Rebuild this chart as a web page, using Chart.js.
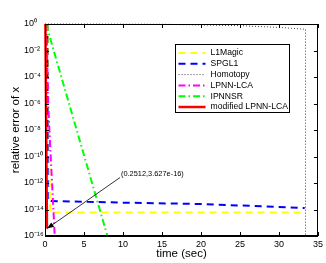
<!DOCTYPE html>
<html><head><meta charset="utf-8">
<script src="https://cdn.jsdelivr.net/npm/chart.js@4.4.1/dist/chart.umd.min.js"></script>
<style>html,body{margin:0;padding:0;background:#fff;overflow:hidden}#wrap{width:326px;height:263px;position:relative}</style>
</head><body><div id="wrap"><canvas id="c" width="326" height="263"></canvas></div>
<script>
// ---- data ----
const seriesNames = ['L1Magic', 'SPGL1', 'Homotopy', 'LPNN-LCA', 'IPNNSR', 'modified LPNN-LCA'];
const l1magicT   = [0.35, 0.65, 33.2];
const l1magicErr = [1, 6e-15, 6e-15];
const spgl1T     = [0.3, 0.35, 5, 10, 20, 33.3];
const spgl1Err   = [1, 4.4e-14, 3.8e-14, 3.3e-14, 2.6e-14, 1.3e-14];
const homotopyT   = [0, 15, 25, 30, 33.4, 33.4];
const homotopyErr = [1, 0.95, 0.75, 0.55, 0.4, 1e-16];
const lpnnT   = [0.2, 0.38, 0.69, 1.25];
const lpnnErr = [1, 2e-6, 3e-10, 1e-16];
const ipnnsrT   = [0.13, 8.0];
const ipnnsrErr = [1, 1e-16];
const modT   = [0.05, 0.2512];
const modErr = [1, 3.627e-16];
const xTicks = [0, 5, 10, 15, 20, 25, 30, 35];
const yTickValues = [1e-16, 1e-14, 1e-12, 1e-10, 1e-8, 1e-6, 1e-4, 1e-2, 1];
const yTickLabels = ['10⁻¹⁶', '10⁻¹⁴', '10⁻¹²', '10⁻¹⁰', '10⁻⁸', '10⁻⁶', '10⁻⁴', '10⁻²', '10⁰'];
const annotPoint = { x: 0.2512, y: 3.627e-16 };
const annotText = '(0.2512,3.627e-16)';
const xTitle = 'time (sec)';
const yTitle = 'relative error of x';

// ---- chart ----
const FONT = '"Liberation Sans", Arial, Helvetica, sans-serif';
Chart.defaults.font.family = FONT;
Chart.defaults.color = '#000';
const pts = (t, e) => t.map((v, i) => ({ x: v, y: e[i] }));

const styles = [
  { borderColor: '#ffff00', borderWidth: 2, borderDash: [7, 5] },
  { borderColor: '#0000ff', borderWidth: 2, borderDash: [7, 5] },
  { borderColor: '#444444', borderWidth: 1, borderDash: [1, 2] },
  { borderColor: '#ff00ff', borderWidth: 2, borderDash: [7, 3, 1.5, 3] },
  { borderColor: '#00ff00', borderWidth: 2, borderDash: [7, 3, 1.5, 3] },
  { borderColor: '#ff0000', borderWidth: 2.5, borderDash: [] }
];
const series = [[l1magicT, l1magicErr], [spgl1T, spgl1Err], [homotopyT, homotopyErr], [lpnnT, lpnnErr], [ipnnsrT, ipnnsrErr], [modT, modErr]];

const datasets = series.map((s, i) => Object.assign({
  label: seriesNames[i],
  data: pts(s[0], s[1]),
  order: 6 - i,
  pointRadius: 0,
  tension: 0,
  fill: false,
  clip: 3
}, styles[i]));

const decor = {
  id: 'decor',
  afterDraw(chart) {
    const ctx = chart.ctx, a = chart.chartArea;
    const xs = chart.scales.x, ys = chart.scales.y;
    ctx.save();
    // box
    ctx.strokeStyle = '#000'; ctx.lineWidth = 1; ctx.setLineDash([]);
    ctx.strokeRect(Math.round(a.left) + 0.5, Math.round(a.top) + 0.5, Math.round(a.right - a.left) - 1, Math.round(a.bottom - a.top) - 1);
    // inward ticks
    const TL = 4;
    ctx.beginPath();
    xs.ticks.forEach(t => {
      const px = Math.round(xs.getPixelForValue(t.value)) + 0.5;
      ctx.moveTo(px, a.bottom); ctx.lineTo(px, a.bottom - TL);
      ctx.moveTo(px, a.top); ctx.lineTo(px, a.top + TL);
    });
    ys.ticks.forEach(t => {
      const py = Math.round(ys.getPixelForValue(t.value)) + 0.5;
      ctx.moveTo(a.left, py); ctx.lineTo(a.left + TL, py);
      ctx.moveTo(a.right, py); ctx.lineTo(a.right - TL, py);
    });
    ctx.stroke();

    // annotation
    const px = xs.getPixelForValue(annotPoint.x), py = ys.getPixelForValue(annotPoint.y);
    const tx = px + 74, ty = py - 55;
    const sx = tx - 1, sy = ty + 4;
    ctx.beginPath(); ctx.moveTo(sx, sy); ctx.lineTo(px, py); ctx.lineWidth = 0.8; ctx.stroke();
    const ang = Math.atan2(py - sy, px - sx), L = 7, W = 2.6;
    ctx.beginPath();
    ctx.moveTo(px, py);
    ctx.lineTo(px - L * Math.cos(ang) + W * Math.sin(ang), py - L * Math.sin(ang) - W * Math.cos(ang));
    ctx.lineTo(px - L * Math.cos(ang) - W * Math.sin(ang), py - L * Math.sin(ang) + W * Math.cos(ang));
    ctx.closePath(); ctx.fillStyle = '#000'; ctx.fill();
    ctx.font = '7.4px ' + FONT; ctx.textAlign = 'left'; ctx.textBaseline = 'middle';
    ctx.fillText(annotText, tx, ty);

    // legend
    const lw = 114, lh = 68;
    const lx = Math.round(a.right - 29 - lw) + 0.5, ly = Math.round(a.top + 20) + 0.5;
    ctx.fillStyle = '#fff'; ctx.fillRect(lx, ly, lw, lh);
    ctx.strokeStyle = '#000'; ctx.lineWidth = 1; ctx.setLineDash([]);
    ctx.strokeRect(lx, ly, lw, lh);
    ctx.font = '8.6px ' + FONT; ctx.textBaseline = 'middle'; ctx.textAlign = 'left';
    chart.data.datasets.forEach((d, i) => {
      const yy = ly + 8.5 + i * 10.8;
      ctx.save();
      ctx.strokeStyle = d.borderColor; ctx.lineWidth = d.borderWidth; ctx.setLineDash(d.borderDash || []);
      ctx.beginPath(); ctx.moveTo(lx + 3, yy); ctx.lineTo(lx + 30, yy); ctx.stroke();
      ctx.restore();
      ctx.fillStyle = '#000';
      ctx.fillText(d.label, lx + 35, yy);
    });

    // y title
    ctx.save();
    ctx.translate(16, (a.top + a.bottom) / 2);
    ctx.rotate(-Math.PI / 2);
    ctx.font = '11.5px ' + FONT; ctx.textAlign = 'center'; ctx.textBaseline = 'middle'; ctx.fillStyle = '#000';
    ctx.fillText(yTitle, 0, 0);
    ctx.restore();
    ctx.restore();
  }
};

new Chart(document.getElementById('c'), {
  type: 'line',
  data: { datasets },
  options: {
    responsive: false, animation: false, devicePixelRatio: 1,
    layout: { padding: { left: 24, top: 24, right: 8, bottom: 0 } },
    plugins: { legend: { display: false }, tooltip: { enabled: false } },
    scales: {
      x: {
        type: 'linear', min: 0, max: 35,
        afterBuildTicks: s => { s.ticks = xTicks.map(v => ({ value: v })); },
        ticks: { font: { size: 9 }, color: '#000', padding: 3, maxRotation: 0, autoSkip: false, callback: v => String(v) },
        grid: { display: false, drawTicks: false },
        border: { display: true, color: '#000', width: 1 },
        title: { display: true, text: xTitle, font: { size: 11.5 }, color: '#000', padding: { top: 0, bottom: 2 } },
        afterFit: s => { s.height = 27; }
      },
      y: {
        type: 'logarithmic', min: 1e-16, max: 1,
        afterBuildTicks: s => { s.ticks = yTickValues.map(v => ({ value: v })); },
        ticks: { font: { size: 9 }, color: '#000', padding: 2, crossAlign: 'far', autoSkip: false, callback: (v, i) => yTickLabels[i] },
        grid: { display: false, drawTicks: false },
        border: { display: true, color: '#000', width: 1 },
        afterFit: s => { s.width = 21; }
      }
    }
  },
  plugins: [decor]
});
</script></body></html>
